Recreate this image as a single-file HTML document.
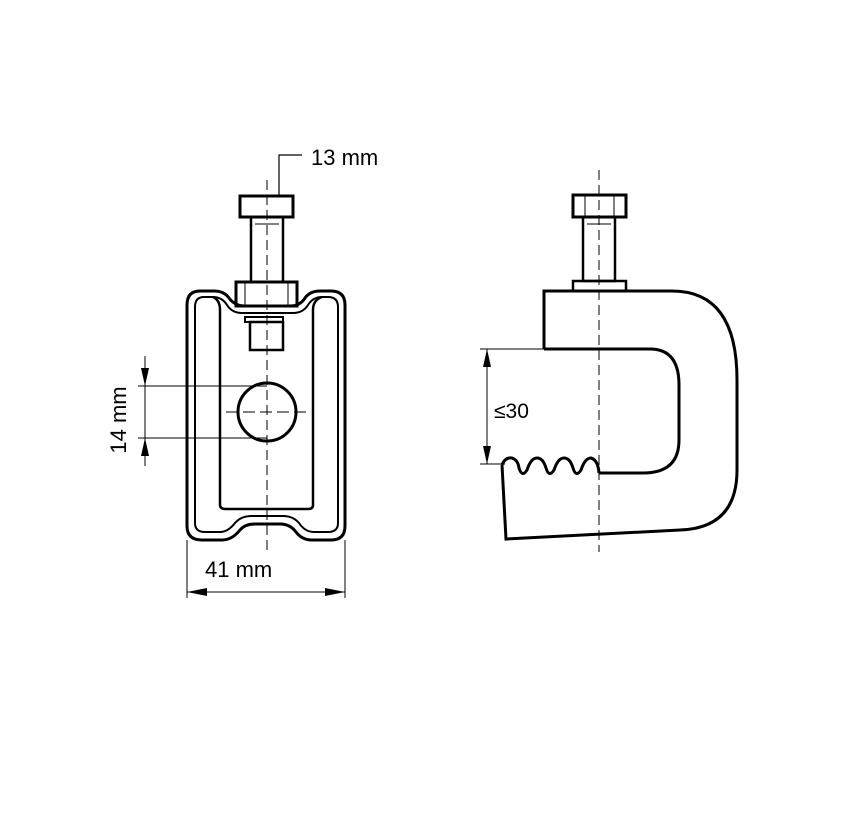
<!DOCTYPE html>
<html><head><style>
body{margin:0;background:#fff;}
svg{display:block}
text{font-family:"Liberation Sans","DejaVu Sans",sans-serif;fill:#000}
</style></head><body>
<svg width="842" height="819" viewBox="0 0 842 819" xmlns="http://www.w3.org/2000/svg">
<g fill="none" stroke="#000">
<line x1="267" y1="180" x2="267" y2="552" stroke-width="1" stroke-dasharray="10,5"/>
<path d="M200 291 Q187 291 187 305 L187 526 Q187 540 202 540 L222 540 Q232 540 240 530 Q245 524 255 524 L280 524 Q290 524 296 532 Q302 540 312 540 L331 540 Q345 540 345 526 L345 305 Q345 291 331 291 L320 291 Q310 291 305 298 Q300 306 290 306 L245 306 Q235 306 229 298 Q224 291 214 291 Z" stroke-width="3"/>
<path d="M204 297 Q195 297 195 307 L195 523 Q195 532 205 532 L220 532 Q228 532 235 523 Q241 516 252 516 L283 516 Q293 516 299 523 Q305 532 314 532 L328 532 Q338 532 338 523 L338 307 Q338 297 328 297 L322 297 Q313 297 308 305 Q303 313 293 313 L242 313 Q232 313 227 305 Q222 297 213 297 Z" stroke-width="2"/>
<path d="M213 297 Q220 300 220 310 L220 505 Q220 509 226 509 L308 509 Q313 509 313 505 L313 310 Q313 300 322 297" stroke-width="2.5"/>
<rect x="240" y="196" width="53" height="21" stroke-width="3"/>
<rect x="251" y="217" width="32" height="65" stroke-width="2.5"/>
<line x1="255" y1="224" x2="279" y2="224" stroke-width="1"/>
<rect x="236" y="282" width="61" height="24" stroke-width="3"/>
<line x1="245" y1="283" x2="245" y2="305" stroke-width="1"/>
<line x1="288" y1="283" x2="288" y2="305" stroke-width="1"/>
<rect x="245" y="317" width="38" height="5" stroke-width="2"/>
<rect x="250" y="322" width="33" height="28" stroke-width="2.5"/>
<polyline points="279,197 279,155 302,155" stroke-width="1.2"/>
<circle cx="267" cy="412" r="29" stroke-width="3"/>
<line x1="226" y1="412" x2="308" y2="412" stroke-width="1" stroke-dasharray="12,5"/>
<line x1="138" y1="386" x2="267" y2="386" stroke-width="1"/>
<line x1="138" y1="438" x2="267" y2="438" stroke-width="1"/>
<line x1="145" y1="356" x2="145" y2="466" stroke-width="1"/>
<line x1="187" y1="540" x2="187" y2="598" stroke-width="1"/>
<line x1="345" y1="540" x2="345" y2="598" stroke-width="1"/>
<line x1="187" y1="592" x2="345" y2="592" stroke-width="1"/>

<line x1="599" y1="170" x2="599" y2="552" stroke-width="1" stroke-dasharray="10,5"/>
<rect x="573" y="195" width="53" height="22" stroke-width="3"/>
<line x1="585" y1="196" x2="585" y2="216" stroke-width="1"/>
<line x1="614" y1="196" x2="614" y2="216" stroke-width="1"/>
<rect x="583" y="217" width="32" height="64" stroke-width="2.5"/>
<line x1="587" y1="224" x2="611" y2="224" stroke-width="1"/>
<rect x="573" y="281" width="53" height="10" stroke-width="2.5"/>
<path d="M544 349 L544 291 L672 291 Q737 291 737 380 L737 470 Q737 528 680 530 L506 539 L502 465" stroke-width="3"/>
<path d="M544 349 L650 349 Q679 349 679 385 L679 440 Q679 473 643 473 L599 473" stroke-width="3"/>
<path d="M502 465 Q505 457 512 458 Q518 460 519 468 Q522 478 527 470 Q531 458 537 458 Q543 458 546 468 Q549 478 554 470 Q558 458 564 458 Q570 458 573 468 Q576 478 581 470 Q585 458 591 458 Q598 460 599 473" stroke-width="3"/>
<line x1="480" y1="349" x2="544" y2="349" stroke-width="1"/>
<line x1="480" y1="464" x2="505" y2="464" stroke-width="1"/>
<line x1="487" y1="349" x2="487" y2="464" stroke-width="1"/>
</g>
<g fill="#000">
<polygon points="145,386 141,368 149,368"/>
<polygon points="145,438 141,456 149,456"/>
<polygon points="187,592 207,588 207,596"/>
<polygon points="345,592 325,588 325,596"/>
<polygon points="487,349 483,367 491,367"/>
<polygon points="487,464 483,446 491,446"/>
</g>
<text x="311" y="165" font-size="22">13 mm</text>
<text x="205" y="577" font-size="22">41 mm</text>
<text transform="translate(126,420) rotate(-90)" text-anchor="middle" font-size="22">14 mm</text>
<text x="494" y="418" font-size="21">≤30</text>
</svg>
</body></html>
